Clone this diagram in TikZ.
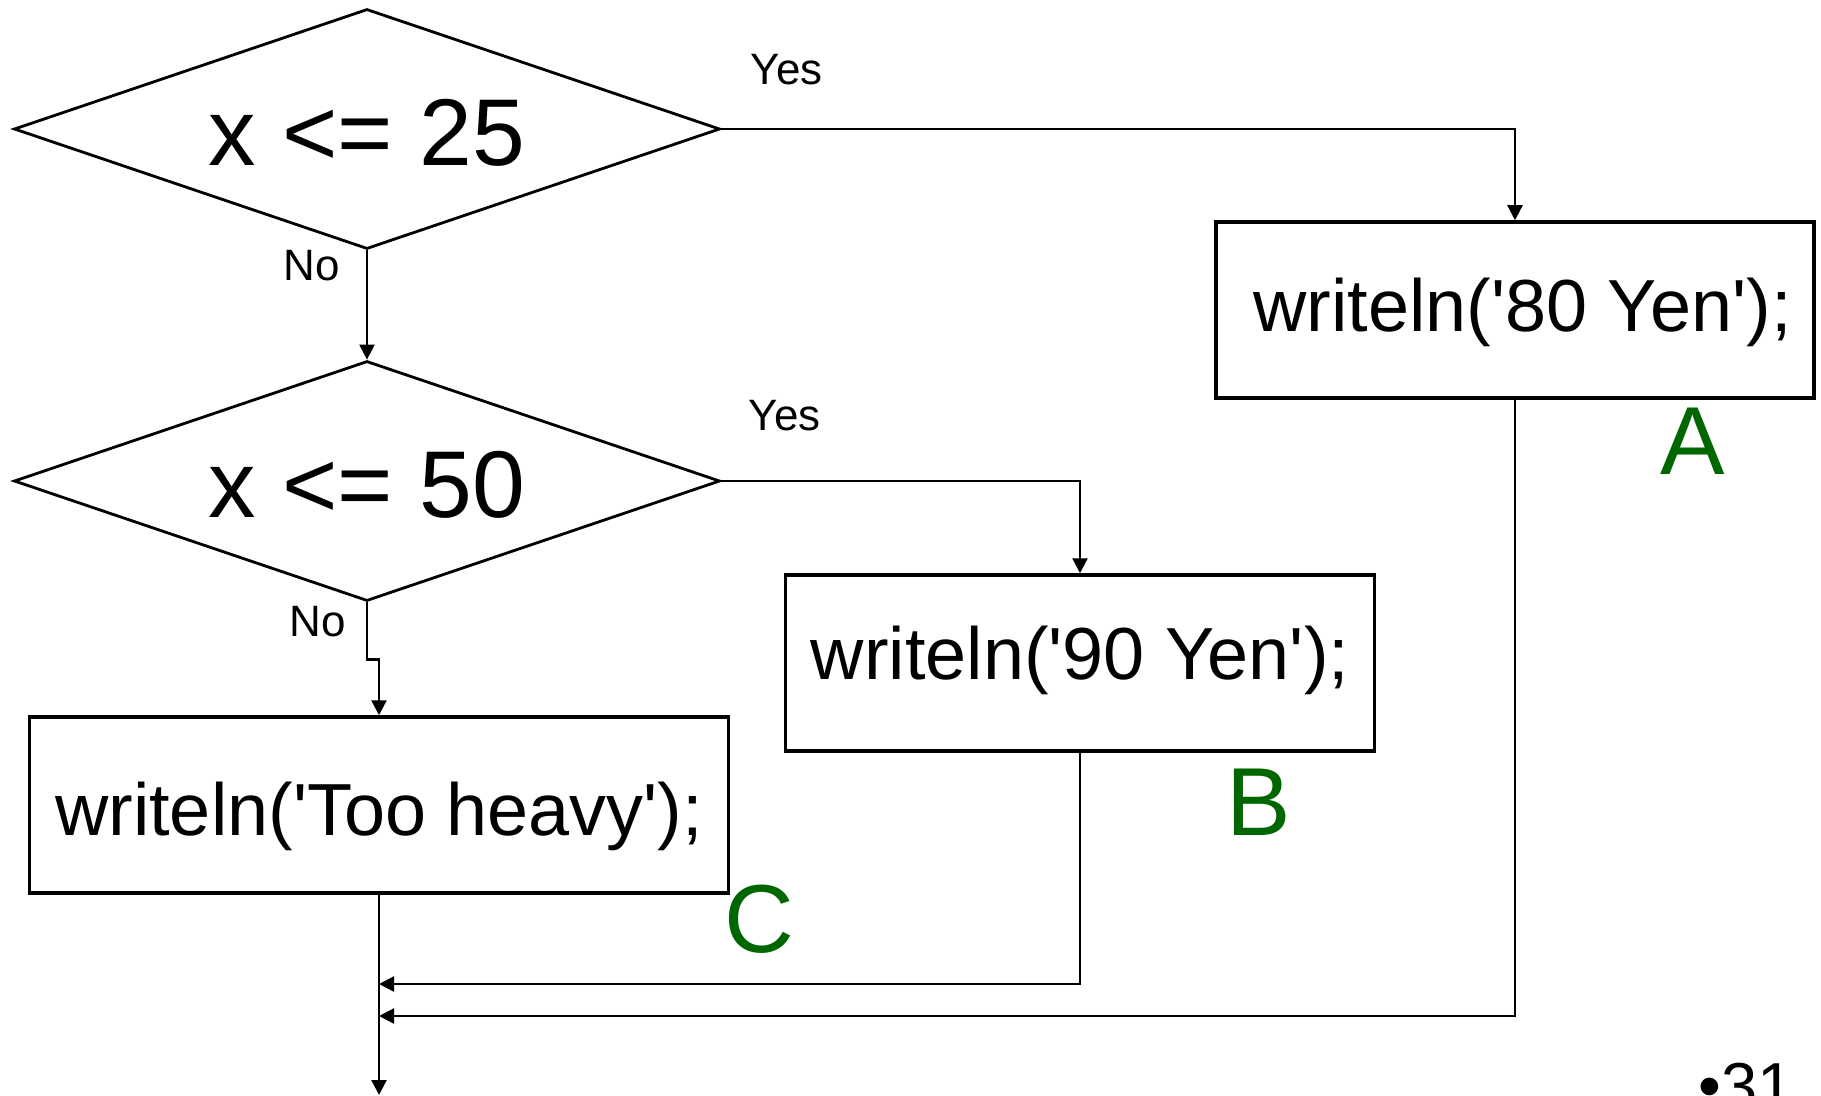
\documentclass[tikz,border=0pt]{standalone}
\usepackage{fontspec}
\setmainfont{Liberation Sans}[Ligatures=TeXOff]
\usetikzlibrary{shapes.geometric,arrows.meta,positioning}
\definecolor{tagGreen}{RGB}{0,102,0}
\tikzset{decision/.style={diamond,draw,line width=1.6pt,inner sep=0pt,aspect=2.94,minimum width=14.12cm,minimum height=4.8cm,text height=42pt,text depth=0pt,font=\fontsize{54}{60}\selectfont}}
\tikzset{stmt/.style={rectangle,draw,line width=2pt,inner sep=0pt,minimum height=3.52cm,font=\fontsize{42}{48}\selectfont}}
\tikzset{flow/.style={line width=1.3pt,-{Triangle[length=0.3cm,width=0.3cm]}}}
\tikzset{lbl/.style={inner sep=0pt,font=\fontsize{25}{30}\selectfont}}
\tikzset{tag/.style={inner sep=0pt,text=tagGreen,font=\fontsize{55}{60}\selectfont}}

\begin{document}
\begin{tikzpicture}
  \useasboundingbox (0,0) rectangle (36.42,-21.9);
  \node[decision] (le25) at (7.34,-2.58) {x <= 25};
  \node[decision] (le50) at (7.34,-9.62) {x <= 50};
  \node[stmt,minimum width=11.96cm,text height=33.6pt,text depth=8.9pt] (yen80) at (30.30,-6.20) {\hspace*{0.3cm}writeln('80 Yen');};
  \node[stmt,minimum width=11.78cm,text height=30.6pt,text depth=12pt] (yen90) at (21.60,-13.26) {writeln('90 Yen');};
  \node[stmt,minimum width=13.98cm,text height=43.8pt,text depth=8.9pt] (heavy) at (7.58,-16.10) {writeln('Too heavy');};
  % branch labels
  \node[lbl,above right=0.88cm and 0.58cm of le25.east] (yes25) {Yes};
  \node[lbl,above right=1.0cm and 0.54cm of le50.east] (yes50) {Yes};
  \node[lbl,below left=0cm and 0.54cm of le25.south] (no25) {No};
  \node[lbl,below left=0.08cm and 0.42cm of le50.south] (no50) {No};
  % green tags
  \node[tag,below left=0.16cm and 1.8cm of yen80.south east] (tagA) {A};
  \node[tag,below left=0.32cm and 1.7cm of yen90.south east] (tagB) {B};
  \node[tag,below right=-0.2cm and -0.12cm of heavy.south east] (tagC) {C};
  \node[inner sep=0pt,anchor=north west,font=\fontsize{37}{40}\selectfont] (page) at (33.96,-21.26) {•31};
  % flow
  \draw[flow] (le25.east) -| (yen80.north);
  \draw[flow] (le25.south) -- (le50.north);
  \draw[flow] (le50.east) -| (yen90.north);
  \draw[flow] (le50.south) -- ++(0,-1.14) -| (heavy.north);
  \coordinate (j90) at (7.58,-19.68);
  \coordinate (j80) at (7.58,-20.32);
  \coordinate (out) at (7.58,-21.9);
  \draw[flow] (yen90.south) |- (j90);
  \draw[flow] (yen80.south) |- (j80);
  \draw[flow] (heavy.south) -- (out);
\end{tikzpicture}
\end{document}
